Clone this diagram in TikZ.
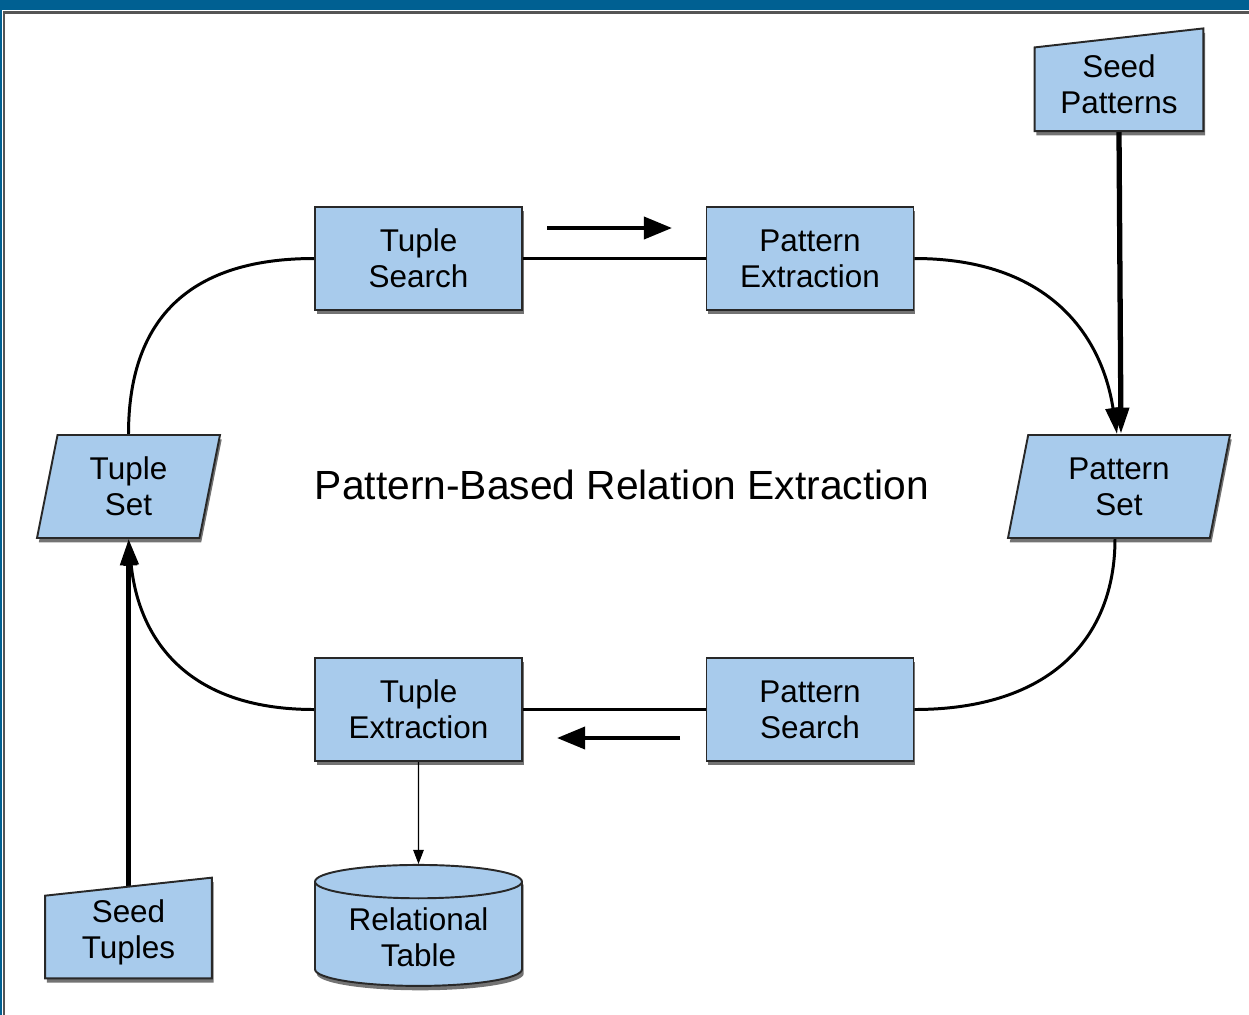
\documentclass[tikz,border=0pt]{standalone}
\usepackage{fontspec}
\setmainfont{Liberation Sans}
\usepackage{tikz}
\usetikzlibrary{shapes.geometric, arrows.meta, positioning, calc, shadows}
\definecolor{boxfill}{RGB}{168,203,236}
\definecolor{boxline}{RGB}{40,40,40}
\definecolor{framebar}{RGB}{0,96,146}
\definecolor{framegray}{RGB}{85,85,85}
\newcommand{\diagfont}{\fontsize{17.9}{20.4}\selectfont}
\newcommand{\bigtitlefont}{\fontsize{23.2}{26}\selectfont}
\pgfdeclarelayer{lines}
\pgfdeclarelayer{shapes}
\pgfsetlayers{lines,shapes,main}
\tikzset{
  boxshadow/.style={drop shadow={shadow xshift=1pt, shadow yshift=-2.5pt,
    opacity=0.55, fill=black}},
  procbox/.style={rectangle, draw=boxline, fill=boxfill, line width=1.1pt,
    minimum width=4.14cm, minimum height=2.06cm, align=center,
    font=\diagfont, boxshadow},
  setbox/.style={trapezium, trapezium left angle=73.8,
    trapezium right angle=106.2, trapezium stretches body,
    draw=boxline, fill=boxfill, line width=1.1pt, minimum height=2.06cm,
    align=center, font=\diagfont, boxshadow},
  seedbox/.style={rectangle, minimum width=3.36cm, align=center,
    font=\diagfont, inner sep=0pt},
  seedshape/.style={draw=boxline, fill=boxfill, line width=1.1pt, boxshadow},
  tablebox/.style={cylinder, shape border rotate=90, aspect=0.22,
    draw=boxline, fill=boxfill, line width=1.1pt, minimum width=4.14cm,
    minimum height=2.42cm, align=center, font=\diagfont, boxshadow},
  loopline/.style={line width=1.7pt, color=black},
  looparrow/.style={loopline, -{Triangle[length=15pt, width=8.5pt]}},
  seedarrow/.style={line width=3pt, -{Triangle[length=15pt, width=9pt]}},
  dirarrow/.style={line width=2.3pt, -{Triangle[length=16pt, width=12.5pt]}},
  thinarrow/.style={line width=0.6pt, -{Triangle[length=8pt, width=6pt]}}
}
\begin{document}
\begin{tikzpicture}[x=0.02cm, y=-0.02cm]
  \useasboundingbox (0,0) rectangle (1249,1015);
  % Window frame
  \fill[framebar] (0,0) rectangle (1249,10);
  \fill[framebar] (0,0) rectangle (2,1015);
  \draw[framegray, line width=1.2pt] (4,1015) -- (4,12.5) -- (1249,12.5);
  % Process boxes
  \node[procbox] (tsearch)  at (418.5,258.5) {Tuple\\Search};
  \node[procbox] (pextract) at (810,258.5)   {Pattern\\Extraction};
  \node[procbox] (textract) at (418.5,709.5) {Tuple\\Extraction};
  \node[procbox] (psearch)  at (810,709.5)   {Pattern\\Search};
  % Sets
  \node[setbox, minimum width=3.66cm] (tset) at (128.5,486.5) {Tuple\\Set};
  \node[setbox, minimum width=4.44cm] (pset) at (1119,486.5) {Pattern\\Set};
  % Output table
  \node[tablebox] (rtable) at (418.5,937) {Relational\\Table};
  % Seeds
  \node[seedbox, minimum height=1.85cm] (spat) at (1119,84.5) {Seed\\Patterns};
  \node[seedbox, minimum width=3.32cm, minimum height=1.82cm] (stup) at (128.5,932.5) {Seed\\Tuples};
  \begin{pgfonlayer}{shapes}
    \filldraw[seedshape] (spat.south west) -- (spat.south east)
      -- ($(spat.north east)+(0,-9.5)$) -- ($(spat.north west)+(0,9.5)$) -- cycle;
    \filldraw[seedshape] (stup.south west) -- (stup.south east)
      -- ($(stup.north east)+(0,-9)$) -- ($(stup.north west)+(0,9)$) -- cycle;
  \end{pgfonlayer}
  % Title
  \node[font=\bigtitlefont] (title) at (622,485) {Pattern-Based Relation Extraction};
  % Loop connectors
  \begin{pgfonlayer}{lines}
    \draw[loopline] (tset.center |- tset.north)
      .. controls +(0,-110) and +(-130,0) .. (tsearch.west);
    \draw[loopline] (tsearch.east) -- (pextract.west);
    \draw[looparrow] (pextract.east)
      .. controls +(136,0) and +(-15,-97) .. ($(pset.center |- pset.north)+(-2,0)$);
    \draw[loopline] ($(pset.center |- pset.south)+(-4,0)$)
      .. controls +(0,100) and +(135,0) .. (psearch.east);
    \draw[loopline] (psearch.west) -- (textract.east);
    \draw[looparrow] (textract.west)
      .. controls +(-130,0) and +(10,97) .. (tset.center |- tset.south);
    % Seed inputs
    \draw[seedarrow] (spat.south) -- ($(pset.center |- pset.north)+(2,0)$);
    \draw[seedarrow] (stup.north) -- (tset.center |- tset.south);
    % Output
    \draw[thinarrow] (textract.south) -- (rtable.north);
  \end{pgfonlayer}
  % Direction marks
  \coordinate (fwdA) at (547,228);
  \coordinate (fwdB) at (672,228);
  \coordinate (backA) at (680,738);
  \coordinate (backB) at (557,738);
  \draw[dirarrow] (fwdA) -- (fwdB);
  \draw[dirarrow] (backA) -- (backB);
\end{tikzpicture}
\end{document}
